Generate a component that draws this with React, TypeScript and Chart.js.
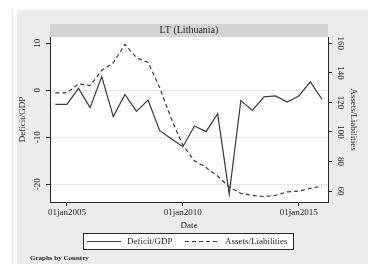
import React, { useEffect, useRef } from "react";
import { Chart, registerables } from "chart.js";

Chart.register(...registerables);

const dates = [
  2004.5, 2005.0, 2005.5, 2006.0, 2006.5, 2007.0, 2007.5, 2008.0, 2008.5, 2009.0, 2009.5, 2010.0,
  2010.5, 2011.0, 2011.5, 2012.0, 2012.5, 2013.0, 2013.5, 2014.0, 2014.5, 2015.0, 2015.5, 2016.0,
];
const deficitGDP = [
  -3.0, -3.0, 0.4, -3.7, 2.9, -5.6, -0.9, -4.5, -2.1, -8.6, -10.3, -12.0,
  -7.6, -8.8, -5.0, -22.1, -2.2, -4.3, -1.4, -1.2, -2.5, -1.2, 1.8, -1.9,
];
const assetsLiabilities = [
  126.5, 126.5, 132.6, 131.4, 141.6, 146.9, 159.3, 150.3, 147.0, 130.0, 109.0, 91.0,
  80.5, 75.9, 70.2, 62.8, 58.5, 57.1, 56.3, 57.1, 59.5, 60.0, 61.8, 63.4,
];
const xTickValues = [2005, 2010, 2015];
const xTickLabels = ["01jan2005", "01jan2010", "01jan2015"];
const leftTicks = [10, 0, -10, -20];
const rightTicks = [60, 80, 100, 120, 140, 160];

const panelTitle = "LT (Lithuania)";
const seriesNames = ["Deficit/GDP", "Assets/Liabilities"];
const FONT = "'Liberation Serif', 'DejaVu Serif', serif";
const INK = "#262626";
const LINE = "#3a3a3a";

const decor = {
  id: "stataDecor",
  beforeDraw(chart: any) {
    const { ctx, chartArea, width, height } = chart;
    ctx.save();
    ctx.fillStyle = "#ffffff";
    ctx.fillRect(0, 0, width, height);
    ctx.fillStyle = "#ececec";
    ctx.fillRect(17, 10, width - 17, height - 10);
    ctx.strokeStyle = "#e4e4e4";
    ctx.lineWidth = 1;
    ctx.beginPath();
    ctx.moveTo(12.5, 10);
    ctx.lineTo(12.5, height);
    ctx.stroke();
    // plot region
    ctx.fillStyle = "#ffffff";
    ctx.fillRect(chartArea.left, chartArea.top, chartArea.right - chartArea.left, chartArea.bottom - chartArea.top);
    // title bar
    ctx.fillStyle = "#d4d4d4";
    ctx.fillRect(chartArea.left, 24, chartArea.right - chartArea.left, chartArea.top - 24);
    ctx.fillStyle = INK;
    ctx.font = `10px ${FONT}`;
    ctx.textAlign = "center";
    ctx.textBaseline = "middle";
    ctx.fillText(panelTitle, (chartArea.left + chartArea.right) / 2, 30.5);
    ctx.restore();
  },
  afterDraw(chart: any) {
    const { ctx, chartArea, scales } = chart;
    ctx.save();
    ctx.fillStyle = INK;
    ctx.font = `9px ${FONT}`;
    ctx.textAlign = "center";
    ctx.textBaseline = "middle";
    // left tick labels
    scales.y.ticks.forEach((t: any) => {
      const py = scales.y.getPixelForValue(t.value);
      ctx.save();
      ctx.translate(38, py);
      ctx.rotate(-Math.PI / 2);
      ctx.fillText(String(t.value), 0, 0);
      ctx.restore();
    });
    // right tick labels
    scales.y2.ticks.forEach((t: any) => {
      const py = scales.y2.getPixelForValue(t.value);
      ctx.save();
      ctx.translate(340, py);
      ctx.rotate(Math.PI / 2);
      ctx.fillText(String(t.value), 0, 0);
      ctx.restore();
    });
    const midY = (chartArea.top + chartArea.bottom) / 2;
    ctx.save();
    ctx.translate(23, midY);
    ctx.rotate(-Math.PI / 2);
    ctx.fillText(seriesNames[0], 0, 0);
    ctx.restore();
    ctx.save();
    ctx.translate(353, midY);
    ctx.rotate(Math.PI / 2);
    ctx.fillText(seriesNames[1], 0, 0);
    ctx.restore();
    // x title
    ctx.fillText("Date", (chartArea.left + chartArea.right) / 2, 226);
    // legend
    ctx.fillStyle = "#ffffff";
    ctx.fillRect(83.5, 233.5, 210, 16);
    ctx.strokeStyle = INK;
    ctx.lineWidth = 1;
    ctx.strokeRect(83.5, 233.5, 210, 16);
    ctx.strokeStyle = LINE;
    ctx.lineWidth = 1.2;
    ctx.beginPath();
    ctx.moveTo(87, 241.5);
    ctx.lineTo(121, 241.5);
    ctx.stroke();
    ctx.setLineDash([4, 3]);
    ctx.beginPath();
    ctx.moveTo(185, 241.5);
    ctx.lineTo(219, 241.5);
    ctx.stroke();
    ctx.setLineDash([]);
    ctx.fillStyle = INK;
    ctx.textAlign = "left";
    ctx.fillText(seriesNames[0], 127, 241.5);
    ctx.fillText(seriesNames[1], 225, 241.5);
    // note
    ctx.font = `bold 7px ${FONT}`;
    ctx.fillText("Graphs by Country", 30, 258);
    ctx.restore();
  },
};

export default function App() {
  const ref = useRef<HTMLCanvasElement | null>(null);
  useEffect(() => {
    document.body.style.margin = "0";
    if (!ref.current) return;
    const chart = new Chart(ref.current, {
      type: "line",
      data: {
        datasets: [
          {
            label: seriesNames[0],
            data: dates.map((d, i) => ({ x: d, y: deficitGDP[i] })),
            yAxisID: "y",
            borderColor: LINE,
            borderWidth: 1.2,
            pointRadius: 0,
            tension: 0,
            fill: false,
          },
          {
            label: seriesNames[1],
            data: dates.map((d, i) => ({ x: d, y: assetsLiabilities[i] })),
            yAxisID: "y2",
            borderColor: LINE,
            borderWidth: 1.2,
            borderDash: [4, 3],
            pointRadius: 0,
            tension: 0,
            fill: false,
          },
        ],
      },
      plugins: [decor],
      options: {
        animation: false,
        responsive: false,
        devicePixelRatio: 1,
        layout: { padding: { top: 37, left: 0, right: 0, bottom: 0 } },
        plugins: { legend: { display: false }, title: { display: false }, tooltip: { enabled: false } },
        scales: {
          x: {
            type: "linear",
            position: "bottom",
            min: 2004.27,
            max: 2016.26,
            afterBuildTicks: (s: any) => {
              s.ticks = xTickValues.map((v) => ({ value: v }));
            },
            afterFit: (s: any) => {
              s.height = 62;
            },
            ticks: {
              font: { family: FONT, size: 9 },
              color: INK,
              padding: 1,
              maxRotation: 0,
              minRotation: 0,
              autoSkip: false,
              callback: (v: any) => {
                const i = xTickValues.indexOf(Number(v));
                return i >= 0 ? xTickLabels[i] : "";
              },
            },
            grid: { drawOnChartArea: false, drawTicks: true, tickLength: 4, tickColor: INK, lineWidth: 1 },
            border: { display: true, color: INK, width: 1 },
          },
          y: {
            type: "linear",
            position: "left",
            min: -23.77,
            max: 11.34,
            afterBuildTicks: (s: any) => {
              s.ticks = leftTicks.map((v) => ({ value: v }));
            },
            afterFit: (s: any) => {
              s.width = 50;
            },
            ticks: { display: false },
            grid: {
              drawOnChartArea: true,
              drawTicks: true,
              tickLength: 4,
              tickColor: INK,
              color: (c: any) => (c.tick && c.tick.value === 10 ? "rgba(0,0,0,0)" : "#e8e8e8"),
              lineWidth: 1,
            },
            border: { display: true, color: INK, width: 1 },
          },
          y2: {
            type: "linear",
            position: "right",
            min: 52.6,
            max: 164.3,
            afterBuildTicks: (s: any) => {
              s.ticks = rightTicks.map((v) => ({ value: v }));
            },
            afterFit: (s: any) => {
              s.width = 40;
            },
            ticks: { display: false },
            grid: { drawOnChartArea: false, drawTicks: true, tickLength: 4, tickColor: INK, lineWidth: 1 },
            border: { display: true, color: INK, width: 1 },
          },
        },
      },
    });
    return () => chart.destroy();
  }, []);
  return (
    <div style={{ position: "fixed", left: 0, top: 0, width: 368, height: 264 }}>
      <canvas ref={ref} width={368} height={264} style={{ display: "block", width: 368, height: 264 }} />
    </div>
  );
}
